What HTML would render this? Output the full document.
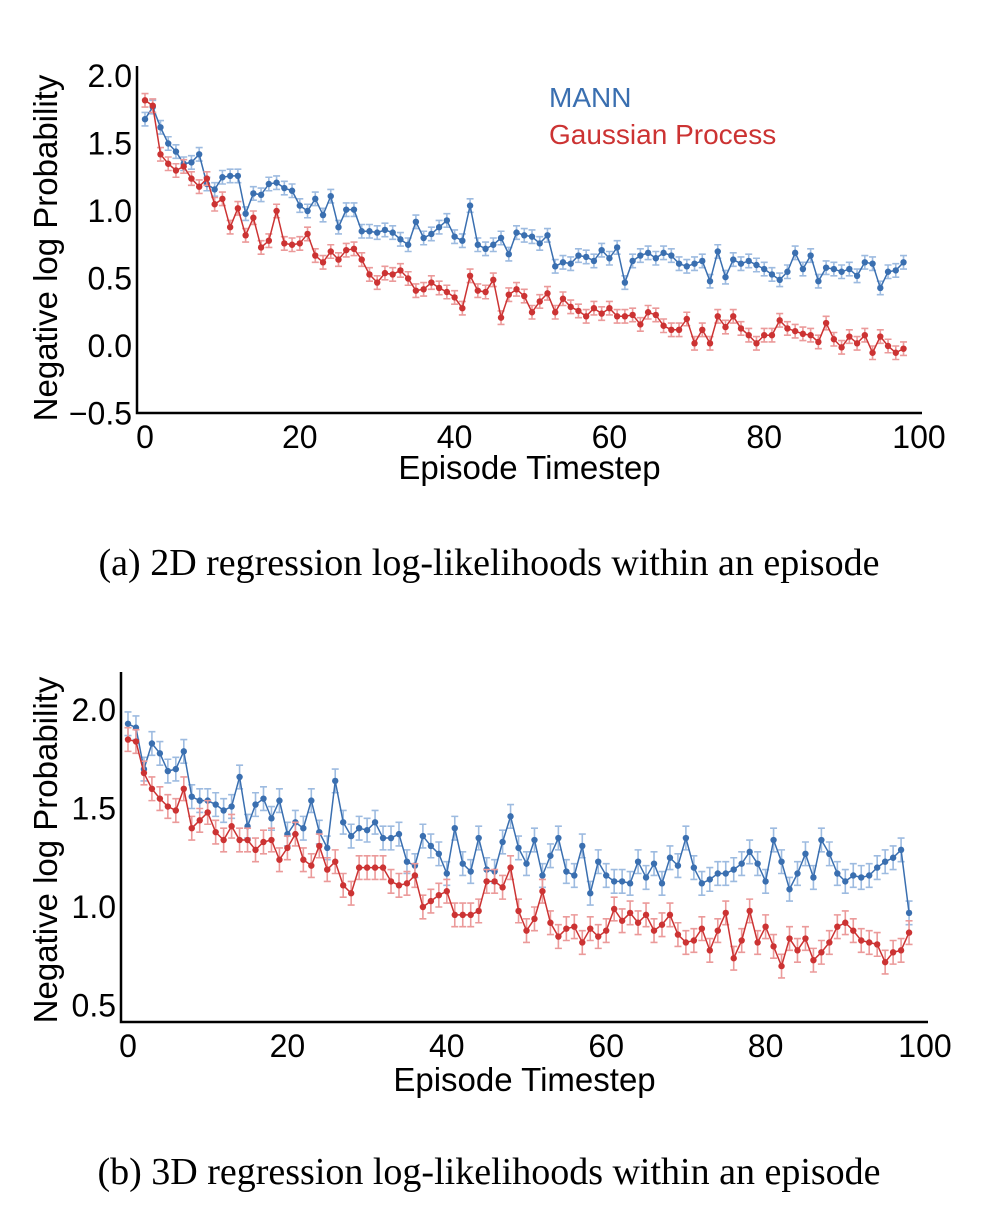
<!DOCTYPE html>
<html><head><meta charset="utf-8"><style>
body{margin:0;background:#fff;width:985px;height:1211px;overflow:hidden}
svg{display:block}
</style></head><body>
<svg id="s" width="985" height="1211" xmlns="http://www.w3.org/2000/svg" font-family="Liberation Sans, sans-serif">
<text x="489" y="575" text-anchor="middle" font-family="Liberation Serif, serif" font-size="38">(a) 2D regression log-likelihoods within an episode</text>
<text x="489" y="1184" text-anchor="middle" font-family="Liberation Serif, serif" font-size="38">(b) 3D regression log-likelihoods within an episode</text>
<text x="549" y="107" fill="#3a6fb0" font-size="28">MANN</text>
<text x="549" y="144" fill="#cc3333" font-size="28">Gaussian Process</text>
</svg>
<script>
const mann1=[1.68,1.77,1.62,1.50,1.44,1.35,1.36,1.42,1.20,1.16,1.25,1.26,1.26,0.98,1.13,1.12,1.20,1.21,1.17,1.15,1.04,1.00,1.09,0.97,1.11,0.88,1.01,1.01,0.85,0.85,0.84,0.86,0.84,0.79,0.75,0.92,0.80,0.83,0.88,0.93,0.81,0.78,1.04,0.75,0.72,0.75,0.80,0.68,0.84,0.82,0.81,0.76,0.82,0.59,0.62,0.61,0.67,0.66,0.63,0.71,0.65,0.73,0.47,0.63,0.67,0.69,0.65,0.69,0.67,0.61,0.59,0.61,0.63,0.48,0.70,0.51,0.64,0.61,0.63,0.60,0.57,0.53,0.49,0.55,0.69,0.57,0.67,0.48,0.58,0.57,0.55,0.57,0.52,0.62,0.61,0.43,0.55,0.56,0.62];
const gp1=[1.82,1.78,1.42,1.35,1.30,1.33,1.24,1.18,1.24,1.05,1.09,0.88,1.02,0.82,0.95,0.73,0.78,1.00,0.76,0.75,0.76,0.83,0.67,0.62,0.70,0.64,0.71,0.72,0.64,0.53,0.47,0.54,0.53,0.56,0.50,0.41,0.42,0.47,0.43,0.40,0.36,0.28,0.52,0.41,0.40,0.49,0.21,0.38,0.42,0.37,0.25,0.33,0.39,0.25,0.35,0.29,0.26,0.22,0.28,0.24,0.28,0.22,0.22,0.23,0.16,0.25,0.23,0.15,0.12,0.12,0.20,0.02,0.12,0.02,0.22,0.14,0.22,0.13,0.08,0.02,0.08,0.08,0.19,0.13,0.11,0.09,0.08,0.03,0.17,0.05,-0.01,0.07,0.02,0.08,-0.05,0.07,0.00,-0.05,-0.02];
const mann2=[1.93,1.91,1.70,1.83,1.78,1.69,1.70,1.79,1.56,1.54,1.54,1.52,1.49,1.51,1.66,1.41,1.52,1.55,1.45,1.54,1.37,1.43,1.40,1.54,1.38,1.30,1.64,1.43,1.36,1.40,1.39,1.43,1.35,1.35,1.37,1.23,1.21,1.36,1.31,1.27,1.17,1.40,1.22,1.18,1.35,1.19,1.18,1.33,1.46,1.30,1.22,1.34,1.16,1.26,1.35,1.18,1.16,1.31,1.07,1.23,1.16,1.13,1.13,1.12,1.23,1.15,1.22,1.12,1.25,1.21,1.35,1.20,1.12,1.14,1.17,1.17,1.19,1.22,1.28,1.22,1.13,1.34,1.23,1.09,1.17,1.27,1.15,1.34,1.27,1.17,1.13,1.16,1.15,1.16,1.20,1.23,1.25,1.29,0.97];
const gp2=[1.85,1.84,1.68,1.60,1.55,1.51,1.49,1.60,1.40,1.44,1.48,1.38,1.34,1.41,1.34,1.34,1.29,1.33,1.34,1.24,1.30,1.37,1.24,1.21,1.31,1.19,1.23,1.11,1.07,1.20,1.20,1.20,1.20,1.13,1.11,1.12,1.16,1.00,1.03,1.06,1.08,0.96,0.96,0.96,0.98,1.13,1.13,1.10,1.20,0.98,0.88,0.94,1.08,0.92,0.85,0.89,0.90,0.82,0.89,0.85,0.88,0.99,0.93,0.97,0.92,0.96,0.88,0.91,0.96,0.86,0.82,0.83,0.89,0.78,0.88,0.97,0.74,0.83,0.98,0.82,0.90,0.80,0.70,0.84,0.78,0.84,0.73,0.77,0.82,0.90,0.92,0.88,0.83,0.82,0.81,0.72,0.77,0.78,0.87];
const xTicks=[0,20,40,60,80,100];
const yTicks1=[2.0,1.5,1.0,0.5,0.0,-0.5];
const yTicks2=[2.0,1.5,1.0,0.5];
const NS='http://www.w3.org/2000/svg';
const svg=document.getElementById('s');
function mk(t,a,p){const e=document.createElementNS(NS,t);for(const k in a)e.setAttribute(k,a[k]);(p||svg).appendChild(e);return e;}
function chart(cfg){
  const g=mk('g',{});
  
  
  const X=v=>cfg.x0+(v-0)*(cfg.x100-cfg.x0)/100;
  const Y=v=>cfg.ya+(v-cfg.va)*(cfg.yb-cfg.ya)/(cfg.vb-cfg.va);
  [[cfg.mann,'#3a6fb0','#9dbbe0','mann-series'],[cfg.gp,'#cc3333','#eb9a9a','gp-series']].forEach(([d,c,lc,nm])=>{
    const sg=mk('g',{},g);
    
    
    d.forEach((v,i)=>{const x=X(i);
      const e=mk('path',{d:`M${x},${Y(v+cfg.err)}V${Y(v-cfg.err)}M${x-3.5},${Y(v+cfg.err)}h7M${x-3.5},${Y(v-cfg.err)}h7`,stroke:lc,'stroke-width':1.6,fill:'none'},sg);
      
      });
    const l=mk('polyline',{points:d.map((v,i)=>X(i)+','+Y(v)).join(' '),fill:'none',stroke:c,'stroke-width':1.5},sg);
    
    
    d.forEach((v,i)=>{const p=mk('circle',{cx:X(i),cy:Y(v),r:3.2,fill:c},sg);
      
      });
  });
  const ax=mk('path',{d:`M${cfg.left},${cfg.top}V${cfg.bottom}H${cfg.right}`,stroke:'#000','stroke-width':2.5,fill:'none'},g);
  
  
  xTicks.forEach(t=>{const e=mk('text',{x:X(t),y:cfg.bottom+35,'text-anchor':'middle','font-size':32},g);e.textContent=t;
    
    });
  cfg.yt.forEach(t=>{const e=mk('text',{x:cfg.left-5,y:Y(t)+11,'text-anchor':'end','font-size':32},g);e.textContent=(t<0?'\u2212':'')+Math.abs(t).toFixed(1);
    
    });
  const xt=mk('text',{x:(cfg.left+cfg.right)/2,y:cfg.bottom+cfg.xtOff,'text-anchor':'middle','font-size':33},g);xt.textContent='Episode Timestep';
  
  
  const cy=cfg.ytc;
  const yt=mk('text',{x:57,y:cy,'text-anchor':'middle','font-size':33,transform:`rotate(-90 57 ${cy})`},g);yt.textContent='Negative log Probability';
  
  
}
chart({name:'chart-2d',mann:mann1,gp:gp1,err:0.05,x0:145,x100:919,ya:76,va:2.0,yb:346,vb:0.0,left:137,right:922,top:66,bottom:413,yt:yTicks1,xtOff:66,ytc:248});
chart({name:'chart-3d',mann:mann2,gp:gp2,err:0.06,x0:128,x100:925,ya:710,va:2.0,yb:907,vb:1.0,left:121,right:928,top:672,bottom:1022,yt:yTicks2,xtOff:69,ytc:850});
</script>
</body></html>
